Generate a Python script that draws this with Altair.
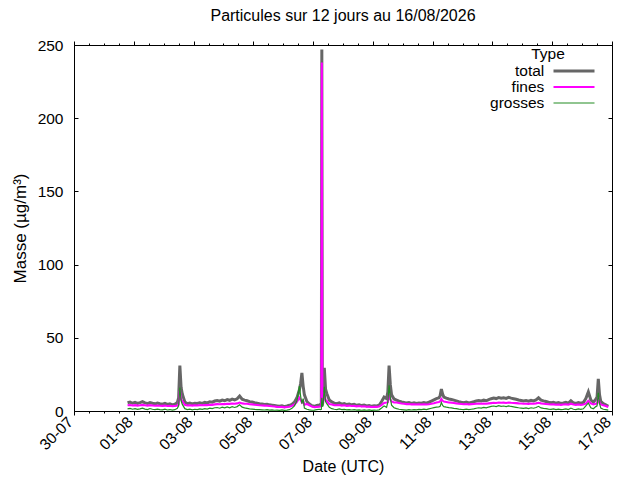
import altair as alt
import pandas as pd

# ---- data: 2-hourly samples starting 31-07 19:00 ----
start = "2026-07-31 19:00"
step = "2h"

total = [
    5.6, 6.1, 5.3, 5.9, 5.2, 5.7, 6.4, 5.5, 5.1, 5.8, 5.3, 4.9,
    5.4, 5.0, 4.7, 5.2, 4.5, 4.9, 4.2, 4.6, 5.8, 31.0, 11.5, 6.2,
    5.0, 5.4, 4.8, 5.3, 5.1, 5.6, 5.2, 5.9, 5.5, 6.3, 6.0, 6.8,
    7.2, 6.7, 7.5, 7.0, 7.8, 7.3, 8.1, 7.6, 8.3, 10.2, 8.0, 7.4,
    7.0, 6.4, 6.1, 5.6, 5.3, 5.0, 4.8, 4.5, 4.6, 4.2, 4.0, 3.8,
    3.5, 3.2, 3.6, 3.0, 3.4, 3.9, 4.5, 6.0, 9.0, 14.5, 26.0, 11.0,
    6.5, 4.8, 3.6, 3.2, 3.8, 4.2, 247.0, 29.5, 12.0, 7.5, 6.2, 5.4,
    5.0, 5.6, 4.7, 5.1, 4.4, 4.8, 4.2, 4.5, 3.9, 4.3, 3.7, 4.0,
    3.5, 3.8, 3.2, 3.6, 3.4, 3.9, 6.5, 9.5, 8.5, 31.0, 11.0, 8.2,
    7.5, 6.8, 6.2, 5.8, 5.4, 5.7, 5.2, 5.6, 5.1, 5.5, 5.3, 5.8,
    5.4, 6.0, 6.8, 7.6, 8.4, 9.0, 15.0, 9.5, 8.8, 8.2, 7.9, 7.4,
    6.9, 6.4, 6.0, 5.7, 6.1, 5.5, 5.9, 6.3, 6.8, 7.2, 6.9, 7.4,
    7.0, 7.8, 8.4, 8.9, 8.5, 9.2, 8.7, 9.0, 8.6, 9.3, 8.8, 8.4,
    8.0, 7.5, 7.2, 6.8, 7.1, 6.7, 7.3, 6.9, 7.6, 9.0, 7.4, 6.9,
    6.5, 6.0, 5.6, 5.9, 5.4, 5.8, 5.2, 5.5, 6.0, 5.4, 7.0, 5.6,
    5.2, 5.7, 5.3, 5.8, 8.5, 13.0, 7.5, 6.0, 8.0, 22.0, 6.5, 5.0,
    4.2, 3.2,
]

fines = [
    3.9, 4.1, 3.8, 4.0, 3.7, 3.9, 4.2, 3.9, 3.7, 4.0, 3.8, 3.6,
    3.8, 3.6, 3.5, 3.7, 3.4, 3.6, 3.3, 3.4, 3.7, 14.0, 6.5, 4.2,
    3.8, 3.9, 3.7, 3.9, 3.8, 4.0, 3.9, 4.1, 4.0, 4.3, 4.2, 4.5,
    4.7, 4.6, 4.8, 4.7, 4.9, 4.9, 5.1, 5.0, 5.2, 5.8, 5.2, 5.0,
    4.9, 4.6, 4.5, 4.3, 4.1, 3.9, 3.8, 3.7, 3.6, 3.4, 3.2, 3.1,
    2.8, 2.7, 2.8, 2.5, 2.7, 2.9, 3.6, 4.4, 6.2, 9.0, 5.8, 4.3,
    4.8, 3.9, 3.0, 2.6, 2.8, 3.0, 238.0, 12.5, 6.8, 4.8, 4.4, 4.0,
    3.9, 4.1, 3.7, 3.9, 3.5, 3.7, 3.4, 3.5, 3.2, 3.4, 3.1, 3.2,
    2.9, 3.0, 2.7, 2.9, 2.8, 3.0, 4.2, 5.5, 5.8, 12.0, 6.5, 5.8,
    5.8, 5.5, 5.1, 4.9, 4.7, 4.8, 4.5, 4.6, 4.4, 4.5, 4.4, 4.6,
    4.4, 4.6, 4.9, 5.3, 5.8, 6.1, 8.2, 6.4, 6.1, 5.8, 5.7, 5.5,
    5.2, 5.0, 4.8, 4.6, 4.8, 4.5, 4.7, 4.8, 5.0, 5.1, 5.0, 5.1,
    5.0, 5.2, 5.4, 5.6, 5.5, 5.8, 5.6, 5.7, 5.5, 5.8, 5.6, 5.5,
    5.4, 5.2, 5.1, 5.0, 5.0, 4.9, 5.1, 5.0, 5.2, 5.6, 5.2, 5.0,
    4.8, 4.6, 4.4, 4.5, 4.3, 4.4, 4.2, 4.4, 4.5, 4.3, 5.0, 4.4,
    4.2, 4.4, 4.2, 4.4, 5.0, 7.0, 5.2, 4.5, 5.0, 9.5, 4.5, 3.9,
    3.4, 2.7,
]

grosses = [
    1.4, 1.8, 1.2, 1.6, 1.1, 1.5, 2.0, 1.3, 1.0, 1.7, 1.2, 0.9,
    1.3, 1.0, 0.8, 1.2, 0.7, 1.0, 0.6, 0.9, 1.8, 16.0, 4.5, 1.6,
    1.0, 1.3, 0.8, 1.2, 1.0, 1.4, 1.1, 1.6, 1.3, 1.9, 1.6, 2.2,
    2.4, 1.9, 2.6, 2.1, 2.8, 2.2, 2.9, 2.4, 3.0, 4.2, 2.6, 2.1,
    1.8, 1.5, 1.3, 1.1, 1.0, 0.9, 0.8, 0.7, 0.9, 0.6, 0.7, 0.5,
    0.6, 0.4, 0.7, 0.4, 0.6, 0.9, 1.8, 3.5, 7.0, 17.0, 5.0, 2.0,
    1.2, 0.8, 0.5, 0.6, 0.9, 1.2, 9.0, 16.5, 5.0, 2.5, 1.6, 1.2,
    1.0, 1.4, 0.9, 1.1, 0.8, 1.0, 0.7, 0.9, 0.6, 0.8, 0.5, 0.7,
    0.5, 0.7, 0.4, 0.6, 0.5, 0.8, 2.0, 3.5, 2.5, 17.5, 4.0, 2.2,
    1.6, 1.2, 1.0, 0.8, 0.6, 0.9, 0.7, 1.0, 0.8, 1.1, 0.9, 1.3,
    1.0, 1.5, 1.9, 2.3, 2.6, 2.8, 5.8, 3.0, 2.6, 2.3, 2.1, 1.8,
    1.6, 1.3, 1.1, 1.0, 1.3, 0.9, 1.2, 1.5, 1.9, 2.2, 2.0, 2.4,
    2.1, 2.7, 3.1, 3.4, 3.0, 3.6, 3.2, 3.4, 3.0, 3.5, 3.1, 2.8,
    2.5, 2.2, 2.0, 1.8, 2.1, 1.7, 2.2, 1.9, 2.4, 3.2, 2.1, 1.8,
    1.6, 1.3, 1.1, 1.4, 1.0, 1.3, 0.9, 1.1, 1.5, 1.0, 2.0, 1.2,
    1.0, 1.4, 1.1, 1.5, 3.5, 5.5, 2.2, 1.5, 3.0, 12.5, 2.0, 1.2,
    0.9, 0.6,
]

# extra readings around the sharp peaks (hours after 30-07 00:00)
extra_hours   = [84, 86, 182, 184, 198, 198.6, 199.4, 200, 202, 252, 254, 294, 296, 420, 422]
extra_total   = [9.0, 16.0, 19.0, 17.0, 4.5, 5.0, 8.5, 9.0, 15.0, 13.0, 18.0, 10.5, 11.5, 9.5, 11.0]
extra_fines   = [4.5, 8.0, 7.5, 7.0, 3.2, 3.3, 4.8, 5.0, 7.5, 6.0, 8.0, 6.5, 7.0, 5.2, 5.5]
extra_grosses = [3.5, 7.0, 10.0, 8.5, 1.0, 1.2, 3.2, 3.5, 6.5, 6.0, 9.0, 3.2, 3.8, 3.5, 5.0]

types = ["total", "fines", "grosses"]
colors = ["#666666", "#ff00ff", "#228b22"]
widths = [3.0, 1.2, 1.2]

y_ticks = [0, 50, 100, 150, 200, 250]
major_days = [(7, 30), (8, 1), (8, 3), (8, 5), (8, 7), (8, 9),
              (8, 11), (8, 13), (8, 15), (8, 17)]

# ---- table ----
origin = pd.Timestamp("2026-07-30 00:00")
times = list(pd.date_range(start, periods=len(total), freq=step))
xtimes = [origin + pd.Timedelta(hours=h) for h in extra_hours]
rows = []
for name, vals, xvals in zip(types, [total, fines, grosses],
                             [extra_total, extra_fines, extra_grosses]):
    pts = list(zip(times, vals)) + list(zip(xtimes, xvals))
    pts.sort(key=lambda p: p[0])
    for t, v in pts:
        rows.append({"t": t.strftime("%Y-%m-%dT%H:%M:%S"), "v": v, "Type": name})
df = pd.DataFrame(rows)

major = [alt.DateTime(year=2026, month=m, date=d) for m, d in major_days]
minor = [alt.DateTime(year=2026, month=int(ts.month), date=int(ts.day), hours=int(ts.hour))
         for ts in pd.date_range("2026-07-30 00:00", "2026-08-17 00:00", freq="12h")]

W, H = 538, 366
FONT = "Liberation Sans"

xs = alt.Scale(domain=[alt.DateTime(year=2026, month=7, date=30),
                       alt.DateTime(year=2026, month=8, date=17)])
ys = alt.Scale(domain=[0, 250])

# trailing no-break spaces (closed by a zero-width char so they are not trimmed)
# keep the right-aligned labels clear of the line samples
gap = "\u00a0" * 12 + "\u200b"
leg = alt.Legend(
    title="Type", orient="none", legendX=426, legendY=2,
    symbolType="stroke", symbolSize=1681, clipHeight=15, rowPadding=0,
    labelAlign="right", labelOffset=0, symbolOffset=52,
    labelExpr="datum.label + '" + gap + "'", labelLimit=300,
    padding=0, titlePadding=1, titleAnchor="middle", titleAlign="center",
    labelFont=FONT, labelFontSize=15.5, titleFont=FONT, titleFontSize=15.5,
    titleFontWeight="normal", labelColor="black", titleColor="black",
)

lines = alt.Chart(df).mark_line(clip=True).encode(
    x=alt.X("t:T", scale=xs, axis=alt.Axis(
        values=major, format="%d-%m", labelAngle=-45, labelAlign="right",
        labelBaseline="middle", tickSize=4, domain=False, labelPadding=4,
        labelOffset={"expr": "-4"},
        labelOverlap=False, labelBound=False, labelFlush=False,
        title="Date (UTC)", titlePadding=5)),
    y=alt.Y("v:Q", scale=ys, axis=alt.Axis(
        values=y_ticks, ticks=False, domain=False, labelPadding=11,
        title="Masse (µg/m³)", titlePadding=8, titleFontSize=17)),
    color=alt.Color("Type:N", scale=alt.Scale(domain=types, range=colors), legend=leg),
    strokeWidth=alt.StrokeWidth("Type:N", scale=alt.Scale(domain=types, range=widths), legend=leg),
)

ghost = alt.Chart(df).mark_line(opacity=0, strokeOpacity=0)

def xghost(orient, vals, size):
    return ghost.encode(
        x=alt.X("t:T", scale=xs, axis=alt.Axis(
            orient=orient, values=vals, labels=False, domain=False, tickSize=size,
            title=None, grid=False)),
        y=alt.Y("v:Q", scale=ys, axis=None),
    )

def yghost(orient):
    return ghost.encode(
        x=alt.X("t:T", scale=xs, axis=None),
        y=alt.Y("v:Q", scale=ys, axis=alt.Axis(
            orient=orient, offset=-W, values=y_ticks, labels=False, domain=False,
            tickSize=4, title=None, grid=False)),
    )

chart = alt.layer(
    lines,
    xghost("bottom", minor, 2),
    xghost("top", major, 4),
    xghost("top", minor, 2),
    yghost("right"),
    yghost("left"),
).resolve_axis(x="independent", y="independent").properties(
    width=W, height=H,
    title=alt.TitleParams("Particules sur 12 jours au 16/08/2026", font=FONT,
                          fontSize=16, fontWeight="normal", color="black",
                          anchor="middle", offset=14),
    autosize=alt.AutoSizeParams(type="none"),
    padding={"left": 66, "top": 37, "right": 20, "bottom": 67},
).configure_view(
    stroke="black", strokeWidth=1
).configure_axis(
    labelFont=FONT, labelFontSize=15.5, titleFont=FONT, titleFontSize=16,
    titleFontWeight="normal", labelColor="black", titleColor="black",
    tickColor="black", grid=False,
)

chart.save("out.html", embed_options={"renderer": "svg", "actions": False})
